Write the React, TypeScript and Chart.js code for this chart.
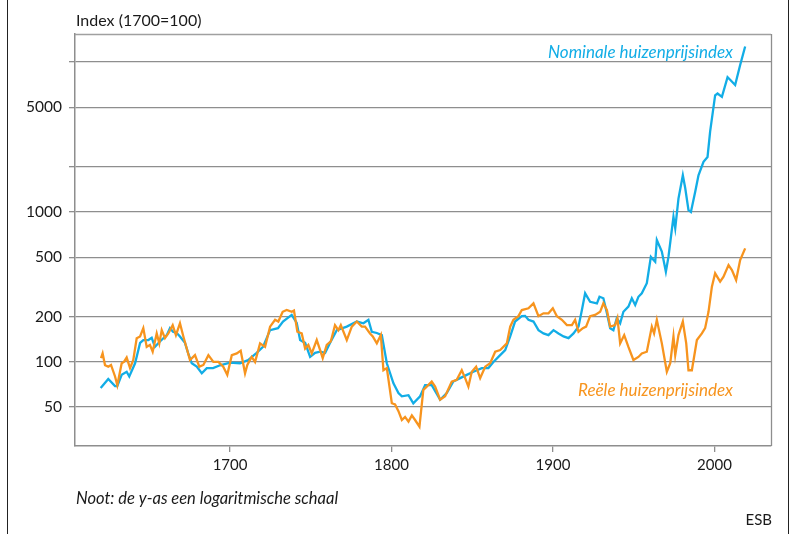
import React, { useEffect, useRef } from "react";
import { Chart, registerables } from "chart.js";

Chart.register(...registerables);

// Nominal house price index (1700 = 100)
const nominalYears = [
  1619.9, 1624.6, 1628.8, 1630.2, 1632.9, 1636.0, 1637.6, 1641.2, 1644.3, 1646.3,
  1649.4, 1651.5, 1653.5, 1656.6, 1660.8, 1662.8, 1664.7, 1667.0, 1669.0, 1672.1,
  1674.0, 1676.3, 1679.4, 1682.5, 1685.6, 1689.5, 1693.8, 1700.0, 1706.2, 1711.2,
  1716.5, 1720.4, 1724.8, 1729.7, 1732.8, 1738.2, 1741.3, 1743.4, 1746.5, 1749.6,
  1752.7, 1755.8, 1758.9, 1761.9, 1766.1, 1772.3, 1778.5, 1782.6, 1785.7, 1787.8,
  1790.9, 1794.0, 1797.1, 1801.2, 1804.3, 1806.4, 1810.5, 1813.5, 1817.7, 1820.8,
  1824.9, 1830.1, 1834.2, 1838.3, 1842.5, 1846.6, 1850.7, 1855.9, 1860.0, 1863.1,
  1867.3, 1870.4, 1873.5, 1876.5, 1880.7, 1882.7, 1884.8, 1887.9, 1891.0, 1894.1,
  1897.2, 1900.3, 1903.4, 1906.5, 1909.6, 1912.7, 1915.8, 1917.9, 1919.9, 1923.0,
  1927.2, 1928.8, 1931.2, 1933.4, 1935.4, 1937.4, 1939.5, 1941.6, 1943.6, 1946.7,
  1948.8, 1950.9, 1952.9, 1955.0, 1958.1, 1960.6, 1963.3, 1964.3, 1967.4, 1969.9,
  1971.5, 1974.6, 1975.7, 1977.7, 1980.4, 1981.9, 1983.9, 1985.4, 1988.1, 1990.1,
  1993.2, 1995.7, 1997.3, 2000.4, 2001.9, 2004.6, 2008.1, 2009.7, 2012.8, 2015.9,
  2019.0,
];
const nominalValues = [
  67, 77, 69, 69, 82, 86, 80, 98, 134, 140,
  140, 145, 126, 137, 151, 168, 159, 156, 148, 134,
  115, 98, 93, 84, 91, 91, 95, 99, 98, 103,
  115, 126, 163, 168, 186, 206, 182, 140, 134, 108,
  115, 117, 115, 134, 163, 172, 186, 181, 191, 159,
  156, 151, 98, 72, 62, 59, 60, 53, 59, 70,
  70, 56, 62, 74, 78, 82, 86, 91, 91, 100,
  111, 120, 148, 186, 202, 203, 191, 186, 163, 155,
  151, 163, 155, 148, 144, 155, 172, 222, 287, 252,
  246, 272, 266, 211, 168, 163, 196, 181, 216, 234,
  266, 240, 272, 287, 335, 502, 466, 650, 545, 400,
  502, 930, 780, 1230, 1760, 1440, 1030, 1000, 1370, 1760,
  2160, 2330, 3440, 6000, 6170, 5860, 7930, 7630, 7040, 9560,
  12700,
];

// Real house price index (1700 = 100)
const realYears = [
  1620.1, 1621.1, 1622.6, 1624.6, 1626.3, 1628.8, 1630.2, 1632.9, 1634.3, 1636.0,
  1638.1, 1640.1, 1642.2, 1644.3, 1646.3, 1648.4, 1650.4, 1652.1, 1654.6, 1656.2,
  1657.7, 1659.7, 1661.8, 1664.5, 1666.5, 1669.0, 1671.1, 1673.2, 1675.2, 1678.3,
  1681.0, 1683.5, 1686.6, 1689.7, 1692.8, 1695.8, 1698.3, 1701.1, 1704.2, 1706.6,
  1709.3, 1710.7, 1713.4, 1715.5, 1718.6, 1721.7, 1724.8, 1727.9, 1729.9, 1732.6,
  1735.1, 1738.2, 1739.6, 1741.7, 1744.4, 1746.5, 1748.5, 1750.6, 1753.7, 1755.8,
  1757.4, 1759.9, 1762.4, 1765.0, 1767.1, 1768.6, 1772.3, 1775.4, 1778.5, 1781.6,
  1783.6, 1786.7, 1788.4, 1790.9, 1793.4, 1795.0, 1797.1, 1800.2, 1802.2, 1804.3,
  1806.4, 1808.4, 1810.5, 1812.6, 1814.6, 1817.3, 1819.7, 1821.8, 1824.9, 1827.0,
  1830.1, 1833.2, 1837.3, 1840.4, 1843.5, 1845.6, 1847.6, 1849.7, 1852.4, 1854.9,
  1858.0, 1861.1, 1864.2, 1867.3, 1871.4, 1873.5, 1875.5, 1878.6, 1880.7, 1884.8,
  1887.9, 1891.0, 1894.1, 1897.2, 1899.9, 1902.4, 1905.5, 1908.6, 1911.7, 1913.7,
  1915.8, 1918.5, 1920.5, 1923.0, 1926.1, 1929.2, 1931.2, 1933.4, 1935.4, 1938.5,
  1939.9, 1941.6, 1944.1, 1946.7, 1949.8, 1952.9, 1955.0, 1958.1, 1961.2, 1962.6,
  1964.3, 1967.4, 1970.5, 1972.6, 1974.6, 1975.7, 1977.7, 1980.4, 1982.5, 1983.9,
  1986.0, 1989.1, 1992.2, 1994.2, 1996.3, 1998.4, 2000.4, 2003.5, 2005.6, 2008.7,
  2010.8, 2013.4, 2015.9, 2019.0,
];
const realValues = [
  106, 114, 95, 93, 95.5, 80, 70, 98, 100, 107,
  91, 103, 144, 148, 168, 126, 130, 117, 155, 133,
  163, 144, 155, 176, 151, 181, 148, 123, 103, 111,
  93, 95.5, 111, 100, 100, 93, 82, 111, 114, 119,
  84, 95.5, 108, 100, 133, 126, 172, 191, 186, 216,
  222, 216, 220, 159, 155, 123, 130, 114, 140, 120,
  106, 130, 137, 176, 163, 176, 140, 172, 186, 172,
  172, 155, 148, 133, 151, 88, 91, 53, 52, 47,
  41, 43, 40, 44, 41, 37, 65, 68.5, 74, 68.5,
  56, 59, 74, 76, 88, 78, 68.5, 86, 93, 78,
  93, 98, 117, 120, 133, 172, 191, 202, 222, 228,
  246, 202, 211, 211, 228, 202, 191, 176, 176, 191,
  159, 168, 172, 202, 206, 216, 246, 222, 172, 176,
  196, 133, 151, 126, 103, 108, 114, 117, 172, 155,
  191, 133, 86, 98, 148, 111, 151, 186, 133, 88,
  88, 140, 155, 168, 216, 318, 390, 343, 370, 443,
  410, 352, 478, 572,
];

const yTickValues = [50, 100, 200, 500, 1000, 2000, 5000, 10000];
const yTickLabels = ["50", "100", "200", "500", "1000", "", "5000", ""];
const xTickValues = [1700, 1800, 1900, 2000];

const titleText = "Index (1700=100)";
const nominalLabel = "Nominale huizenprijsindex";
const realLabel = "Reële huizenprijsindex";
const noteText = "Noot: de y-as een logaritmische schaal";
const sourceText = "ESB";

const BLUE = "#12ade6";
const ORANGE = "#f7941e";
const GRID = "#8e8e8e";
const FONT = "Lato, 'Open Sans', sans-serif";

const overlayPlugin = {
  id: "overlay",
  beforeDraw(chart: any) {
    const { ctx, width, height } = chart;
    ctx.save();
    ctx.fillStyle = "#ffffff";
    ctx.fillRect(0, 0, width, height);
    ctx.restore();
  },
  afterDraw(chart: any) {
    const { ctx, chartArea: a } = chart;
    ctx.save();
    ctx.strokeStyle = "#a0a0a0";
    ctx.lineWidth = 1.3;
    ctx.beginPath();
    ctx.moveTo(a.left, a.top + 0.5);
    ctx.lineTo(a.right, a.top + 0.5);
    ctx.stroke();
    ctx.strokeStyle = GRID;
    ctx.beginPath();
    ctx.moveTo(a.right + 0.5, a.top);
    ctx.lineTo(a.right + 0.5, a.bottom);
    ctx.stroke();
    ctx.strokeStyle = "#222";
    ctx.lineWidth = 1;
    ctx.beginPath();
    ctx.moveTo(7.5, 0);
    ctx.lineTo(7.5, chart.height);
    ctx.moveTo(788.5, 0);
    ctx.lineTo(788.5, chart.height);
    ctx.stroke();
    ctx.textBaseline = "alphabetic";
    ctx.fillStyle = "#1a1a1a";
    ctx.font = `16px ${FONT}`;
    ctx.textAlign = "left";
    ctx.fillText(titleText, 76, 26);
    ctx.font = `italic 17px ${FONT}`;
    ctx.textAlign = "right";
    ctx.fillStyle = BLUE;
    ctx.fillText(nominalLabel, 733, 58);
    ctx.fillStyle = ORANGE;
    ctx.fillText(realLabel, 733, 396);
    ctx.fillStyle = "#1a1a1a";
    ctx.textAlign = "left";
    ctx.font = `italic 16.5px ${FONT}`;
    ctx.fillText(noteText, 76, 504);
    ctx.textAlign = "right";
    ctx.font = `15px ${FONT}`;
    ctx.fillText(sourceText, 772, 525);
    ctx.restore();
  },
};

export default function App() {
  const canvasRef = useRef<HTMLCanvasElement | null>(null);

  useEffect(() => {
    const canvas = canvasRef.current;
    if (!canvas) return;
    const chart = new Chart(canvas, {
      type: "line",
      data: {
        datasets: [
          {
            label: realLabel,
            data: realYears.map((x, i) => ({ x, y: realValues[i] })),
            borderColor: ORANGE,
            borderWidth: 2.3,
            pointRadius: 0,
            tension: 0,
            fill: false,
          },
          {
            label: nominalLabel,
            data: nominalYears.map((x, i) => ({ x, y: nominalValues[i] })),
            borderColor: BLUE,
            borderWidth: 2.3,
            pointRadius: 0,
            tension: 0,
            fill: false,
          },
        ],
      },
      options: {
        animation: false,
        responsive: false,
        devicePixelRatio: 1,
        layout: { padding: { top: 34, right: 19, bottom: 0, left: 0 } },
        plugins: {
          legend: { display: false },
          tooltip: { enabled: false },
          title: { display: false },
        },
        scales: {
          x: {
            type: "linear",
            min: 1604,
            max: 2035,
            bounds: "data",
            afterFit: (scale: any) => {
              scale.height = 88;
            },
            afterBuildTicks: (scale: any) => {
              scale.ticks = xTickValues.map((v) => ({ value: v }));
            },
            ticks: {
              autoSkip: false,
              maxRotation: 0,
              padding: 4,
              color: "#1a1a1a",
              font: { family: FONT, size: 15 },
              callback: (v: any) => String(v),
            },
            grid: {
              drawOnChartArea: false,
              drawTicks: true,
              tickLength: 6,
              color: GRID,
              lineWidth: 1.3,
            },
            border: { display: true, color: GRID, width: 1.5 },
          },
          y: {
            type: "logarithmic",
            min: 27.5,
            max: 15400,
            bounds: "data",
            afterFit: (scale: any) => {
              scale.width = 75;
            },
            afterBuildTicks: (scale: any) => {
              scale.ticks = yTickValues.map((v) => ({ value: v }));
            },
            ticks: {
              autoSkip: false,
              padding: 7,
              color: "#1a1a1a",
              font: { family: FONT, size: 15.5 },
              callback: (v: any) => {
                const i = yTickValues.indexOf(Number(v));
                return i >= 0 ? yTickLabels[i] : "";
              },
            },
            grid: {
              drawOnChartArea: true,
              drawTicks: true,
              tickLength: 6,
              color: GRID,
              lineWidth: 1.3,
            },
            border: { display: true, color: GRID, width: 1.5 },
          },
        },
      },
      plugins: [overlayPlugin],
    });
    return () => chart.destroy();
  }, []);

  return (
    <div style={{ position: "absolute", left: 0, top: 0, width: 790, height: 534, background: "#fff" }}>
      <canvas ref={canvasRef} width={790} height={534} style={{ display: "block" }} />
    </div>
  );
}
